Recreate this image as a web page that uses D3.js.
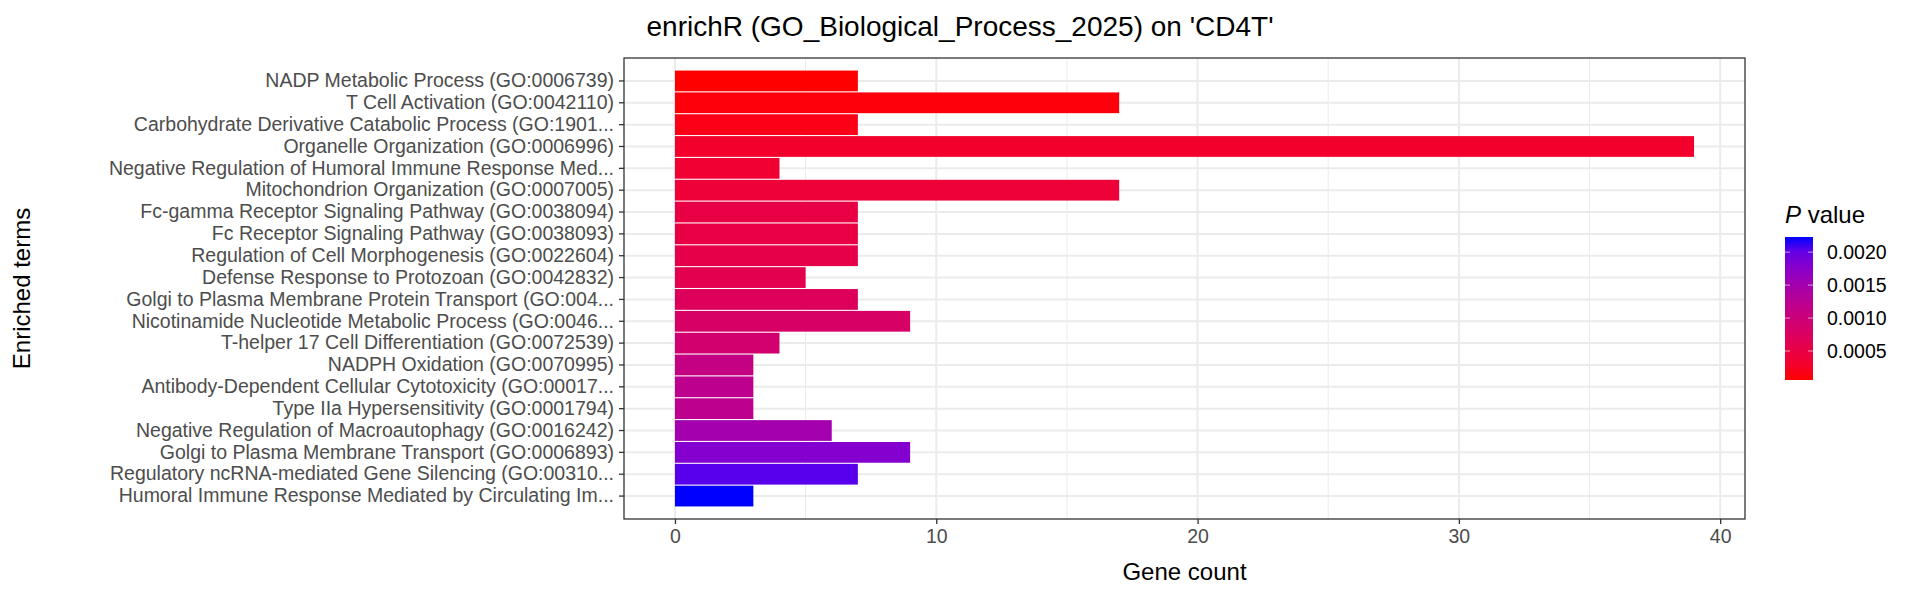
<!DOCTYPE html>
<html><head><meta charset="utf-8">
<script src="https://cdn.jsdelivr.net/npm/d3@7"></script>
<style>body{margin:0;background:#fff}text{font-family:"Liberation Sans",Arial,sans-serif}</style>
</head><body><svg id="chart" width="1920" height="600"></svg>
<script>
const terms = [
  "NADP Metabolic Process (GO:0006739)",
  "T Cell Activation (GO:0042110)",
  "Carbohydrate Derivative Catabolic Process (GO:1901...",
  "Organelle Organization (GO:0006996)",
  "Negative Regulation of Humoral Immune Response Med...",
  "Mitochondrion Organization (GO:0007005)",
  "Fc-gamma Receptor Signaling Pathway (GO:0038094)",
  "Fc Receptor Signaling Pathway (GO:0038093)",
  "Regulation of Cell Morphogenesis (GO:0022604)",
  "Defense Response to Protozoan (GO:0042832)",
  "Golgi to Plasma Membrane Protein Transport (GO:004...",
  "Nicotinamide Nucleotide Metabolic Process (GO:0046...",
  "T-helper 17 Cell Differentiation (GO:0072539)",
  "NADPH Oxidation (GO:0070995)",
  "Antibody-Dependent Cellular Cytotoxicity (GO:00017...",
  "Type IIa Hypersensitivity (GO:0001794)",
  "Negative Regulation of Macroautophagy (GO:0016242)",
  "Golgi to Plasma Membrane Transport (GO:0006893)",
  "Regulatory ncRNA-mediated Gene Silencing (GO:00310...",
  "Humoral Immune Response Mediated by Circulating Im..."
];
const counts = [7,17,7,39,4,17,7,7,7,5,7,9,4,3,3,3,6,9,7,3];
const pvals = [0.00006,0.0001,0.00015,0.0003,0.00035,0.0004,0.0005,0.0005,0.00055,0.0006,
  0.0007,0.0008,0.0009,0.0011,0.0012,0.0012,0.0015,0.0018,0.00205,0.00223];
const xTicks = [0,10,20,30,40];
const legendTicks = [0.0005,0.001,0.0015,0.002];

const svg = d3.select("#chart");
const L = 624, R = 1745, T = 58, B = 519;
const x = d3.scaleLinear().domain([-1.95, 40.95]).range([L, R]);
const y = d3.scaleBand().domain(terms).range([T, B]).paddingInner(0.05).paddingOuter(0.575);
const pmin = d3.min(pvals), pmax = d3.max(pvals);
const color = d3.scaleLinear().domain([pmin, pmax]).range(["#ff0000", "#0000ff"]).interpolate(d3.interpolateLab);

// grid
svg.append("g").selectAll("line").data([5,15,25,35]).join("line")
  .attr("x1", d => x(d)).attr("x2", d => x(d)).attr("y1", T).attr("y2", B)
  .attr("stroke", "#ebebeb").attr("stroke-width", 1);
svg.append("g").selectAll("line").data(xTicks).join("line")
  .attr("x1", d => x(d)).attr("x2", d => x(d)).attr("y1", T).attr("y2", B)
  .attr("stroke", "#ebebeb").attr("stroke-width", 2);
svg.append("g").selectAll("line").data(terms).join("line")
  .attr("x1", L).attr("x2", R).attr("y1", d => y(d) + y.bandwidth()/2).attr("y2", d => y(d) + y.bandwidth()/2)
  .attr("stroke", "#ebebeb").attr("stroke-width", 2);

// bars
svg.append("g").selectAll("rect").data(terms).join("rect")
  .attr("x", x(0)).attr("y", d => y(d))
  .attr("width", (d, i) => x(counts[i]) - x(0)).attr("height", y.bandwidth())
  .attr("fill", (d, i) => color(pvals[i]));

svg.append("rect").attr("x", L).attr("y", T).attr("width", R - L).attr("height", B - T)
  .attr("fill", "none").attr("stroke", "#333").attr("stroke-width", 1.3);

// axes
const xa = svg.append("g").attr("transform", `translate(0,${B})`)
  .call(d3.axisBottom(x).tickValues(xTicks).tickSize(5).tickPadding(5));
const ya = svg.append("g").attr("transform", `translate(${L},0)`)
  .call(d3.axisLeft(y).tickSize(5).tickPadding(5));
[xa, ya].forEach(a => {
  a.select(".domain").remove();
  a.selectAll(".tick line").attr("stroke", "#333").attr("stroke-width", 1.3);
  a.selectAll(".tick text").attr("fill", "#4d4d4d").style("font-size", "19.5px")
    .style("font-family", "'Liberation Sans', Arial, sans-serif");
});

svg.append("text").attr("x", 960).attr("y", 36).attr("text-anchor", "middle")
  .style("font-size", "28px").text("enrichR (GO_Biological_Process_2025) on 'CD4T'");
svg.append("text").attr("x", (L + R) / 2).attr("y", 580).attr("text-anchor", "middle")
  .style("font-size", "24px").text("Gene count");
svg.append("text").attr("transform", `translate(30,${(T + B) / 2}) rotate(-90)`).attr("text-anchor", "middle")
  .style("font-size", "24px").text("Enriched terms");

// legend
const lx = 1785, lw = 28, lt = 237, lb = 380;
const ly = d3.scaleLinear().domain([pmin, pmax]).range([lb, lt]);
const defs = svg.append("defs");
const grad = defs.append("linearGradient").attr("id", "pg").attr("x1", 0).attr("x2", 0).attr("y1", 1).attr("y2", 0);
d3.range(0, 1.01, 0.1).forEach(t => grad.append("stop").attr("offset", t)
  .attr("stop-color", color(pmin + t * (pmax - pmin))));
svg.append("rect").attr("x", lx).attr("y", lt).attr("width", lw).attr("height", lb - lt).attr("fill", "url(#pg)");
const lg = svg.append("g");
legendTicks.forEach(v => {
  lg.append("line").attr("x1", lx).attr("x2", lx + 5).attr("y1", ly(v)).attr("y2", ly(v)).attr("stroke", "#fff").attr("opacity", 0.6);
  lg.append("line").attr("x1", lx + lw - 5).attr("x2", lx + lw).attr("y1", ly(v)).attr("y2", ly(v)).attr("stroke", "#fff").attr("opacity", 0.6);
  lg.append("text").attr("x", lx + lw + 14).attr("y", ly(v)).attr("dy", "0.35em")
    .style("font-size", "19.5px").text(d3.format(".4f")(v));
});
const lt2 = svg.append("text").attr("x", 1785).attr("y", 223).style("font-size", "24px");
lt2.append("tspan").style("font-style", "italic").text("P");
lt2.append("tspan").text(" value");
</script></body></html>
